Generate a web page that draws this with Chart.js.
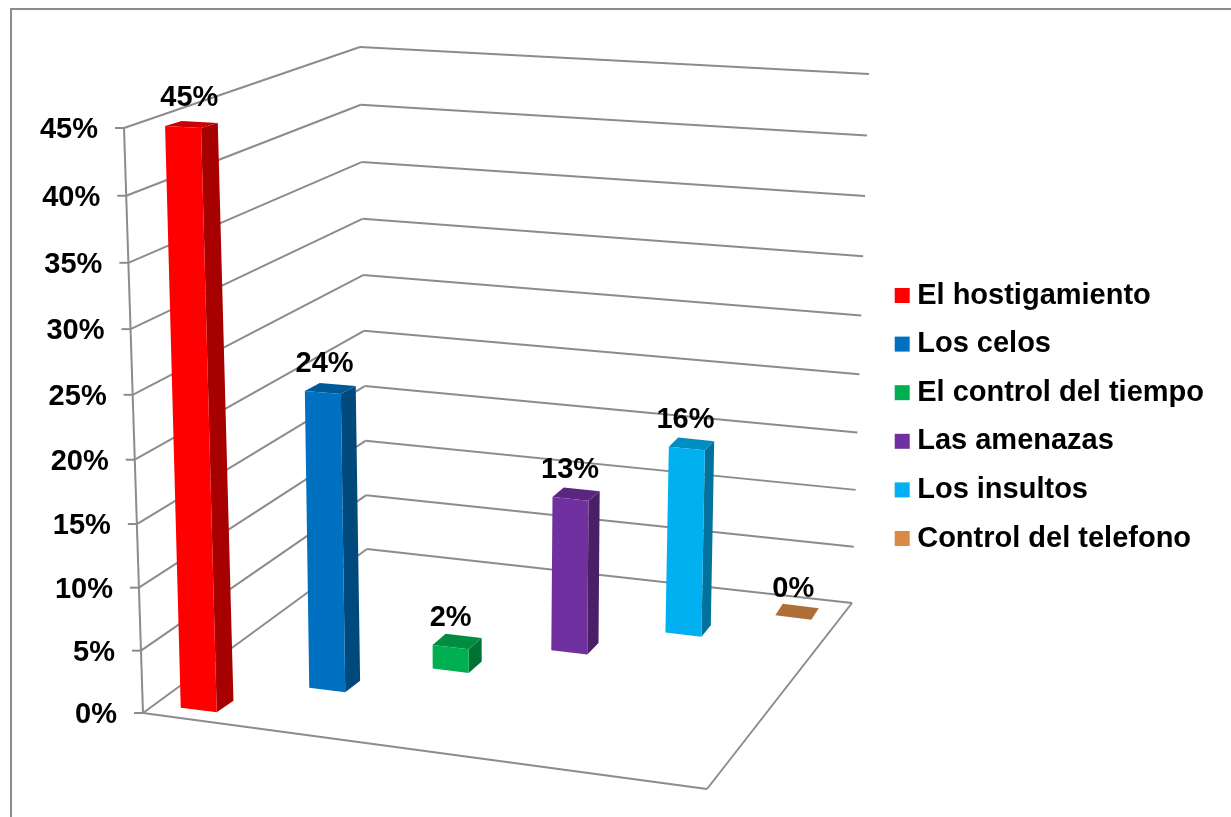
<!DOCTYPE html>
<html>
<head>
<meta charset="utf-8">
<script src="https://cdn.jsdelivr.net/npm/chart.js@4/dist/chart.umd.js"></script>
<style>
  body { margin: 0; background: #fff; overflow: hidden; }
  canvas { display: block; }
</style>
</head>
<body>
<canvas id="myChart" width="1231" height="817"></canvas>
<script>
const categories = ['El hostigamiento', 'Los celos', 'El control del tiempo', 'Las amenazas', 'Los insultos', 'Control del telefono'];
const values = [45, 24, 2, 13, 16, 0];
const colors = ['#FF0000', '#0070C0', '#00B050', '#7030A0', '#00B0F0', '#D98A45'];
const tickStep = 5;
const tickMax = 45;

const FONT = 'bold 29px "Liberation Sans"';
const LINE = '#8c8c8c';

// esquinas de la caja 3D en pantalla
const floorA = [143, 713], floorB = [707, 789], floorC = [852, 603], floorD = [367, 549];
const topA = [124, 128], topC = [869, 74], topD = [360, 47];

// homografia del cuadrado unidad a un cuadrilatero (p00, p10, p11, p01)
function quadMap(p0, p1, p2, p3) {
    const dx1 = p1[0] - p2[0], dx2 = p3[0] - p2[0], sx = p0[0] - p1[0] + p2[0] - p3[0];
    const dy1 = p1[1] - p2[1], dy2 = p3[1] - p2[1], sy = p0[1] - p1[1] + p2[1] - p3[1];
    const det = dx1 * dy2 - dx2 * dy1;
    const g = (sx * dy2 - dx2 * sy) / det;
    const h = (dx1 * sy - sx * dy1) / det;
    const a = p1[0] - p0[0] + g * p1[0], b = p3[0] - p0[0] + h * p3[0];
    const d = p1[1] - p0[1] + g * p1[1], e = p3[1] - p0[1] + h * p3[1];
    return (u, v) => {
        const w = g * u + h * v + 1;
        return [(a * u + b * v + p0[0]) / w, (d * u + e * v + p0[1]) / w];
    };
}

const leftWall = quadMap(floorA, floorD, topD, topA);
const backWall = quadMap(floorD, floorC, topC, topD);
// plano vertical donde se apoyan las caras frontales de las barras
const barPlane = quadMap([132.5, 720.3], [846.7, 609.2], [864.3, 83.5], [113, 131.5]);

function shade(hex, k) {
    const n = parseInt(hex.slice(1), 16);
    const f = (c) => Math.round(c * k);
    return `rgb(${f(n >> 16)},${f((n >> 8) & 255)},${f(n & 255)})`;
}

function poly(ctx, pts, fill) {
    ctx.beginPath();
    pts.forEach((p, i) => i ? ctx.lineTo(p[0], p[1]) : ctx.moveTo(p[0], p[1]));
    ctx.closePath();
    ctx.fillStyle = fill;
    ctx.fill();
}

function seg(ctx, a, b) {
    ctx.beginPath();
    ctx.moveTo(a[0], a[1]);
    ctx.lineTo(b[0], b[1]);
    ctx.stroke();
}

const fraction = (scale, v) => scale.getDecimalForPixel(scale.getPixelForValue(v));

const box3d = {
    id: 'box3d',
    beforeDraw(chart) {
        const { ctx, scales: { y } } = chart;
        // marco exterior
        ctx.save();
        ctx.strokeStyle = LINE;
        ctx.lineWidth = 2;
        ctx.strokeRect(11, 9, 1400, 1000);
        ctx.restore();
        // las etiquetas del eje siguen la arista inclinada
        y.getLabelItems(chart.chartArea).forEach((item, i) => {
            const p = leftWall(0, fraction(y, y.ticks[i].value));
            item.options.translation = [p[0] - 26, p[1] + 2];
        });
    },
    beforeDatasetsDraw(chart) {
        const { ctx, chartArea, scales: { y } } = chart;
        ctx.save();
        ctx.strokeStyle = LINE;
        ctx.lineWidth = 2;
        y.ticks.forEach((t) => {
            const h = fraction(y, t.value);
            const a = leftWall(0, h), d = leftWall(1, h), c = backWall(1, h);
            seg(ctx, [a[0] - 9, a[1]], a);
            seg(ctx, a, d);
            seg(ctx, d, c);
        });
        seg(ctx, floorA, topA);
        seg(ctx, floorA, floorB);
        seg(ctx, floorB, floorC);

        chart.getDatasetMeta(0).data.forEach((bar, i) => {
            const u = (bar.x - chartArea.left) / chartArea.width;
            const hTop = y.getDecimalForPixel(bar.y);
            const half = bar.width / 2;
            const front = (h) => {
                const c = barPlane(u, h);
                const tilt = 2.2 - 1.2 * h;
                return [[c[0] - half, c[1] - tilt], [c[0] + half, c[1] + tilt]];
            };
            const depth = (p, h) => [p[0] + 17.6 - 11 * u, p[1] - 11.5 + 6.5 * h];
            const [bl, br] = front(0);
            const [tl, tr] = front(hTop);
            const color = colors[i];
            poly(ctx, [tr, depth(tr, hTop), depth(br, 0), br], shade(color, 0.65));
            poly(ctx, [tl, tr, depth(tr, hTop), depth(tl, hTop)], shade(color, 0.8));
            if (values[i] > 0) poly(ctx, [tl, tr, br, bl], color);

            const top = barPlane(u, hTop), base = barPlane(u, 0);
            ctx.font = FONT;
            ctx.fillStyle = '#000';
            ctx.textAlign = 'center';
            ctx.textBaseline = 'middle';
            ctx.fillText(values[i] + '%', top[0] + 0.4 * (base[0] - top[0]), top[1] - 29);
        });
        ctx.restore();
        return false;
    }
};

new Chart(document.getElementById('myChart'), {
    type: 'bar',
    data: {
        labels: categories,
        datasets: [{ data: values, backgroundColor: colors, maxBarThickness: 36, barPercentage: 1, categoryPercentage: 1 }]
    },
    options: {
        responsive: false,
        animation: false,
        layout: { padding: { top: 17, right: 17, bottom: 0, left: 0 } },
        scales: {
            x: { display: false },
            y: {
                min: 0,
                max: tickMax,
                grid: { display: false },
                border: { display: false },
                afterFit: (scale) => { scale.width = 125; },
                ticks: {
                    stepSize: tickStep,
                    color: '#000',
                    font: { family: '"Liberation Sans"', weight: 'bold', size: 29 },
                    callback: (v) => v + '%'
                }
            }
        },
        plugins: {
            tooltip: { enabled: false },
            legend: {
                position: 'right',
                maxWidth: 400,
                labels: {
                    color: '#000',
                    padding: 19.6,
                    boxWidth: 1,
                    boxHeight: 1,
                    font: { family: '"Liberation Sans"', weight: 'bold', size: 29 },
                    generateLabels: () => categories.map((name, i) => ({
                        text: name,
                        fillStyle: colors[i],
                        strokeStyle: colors[i],
                        lineWidth: 14,
                        index: i
                    }))
                }
            }
        }
    },
    plugins: [box3d]
});
</script>
</body>
</html>
